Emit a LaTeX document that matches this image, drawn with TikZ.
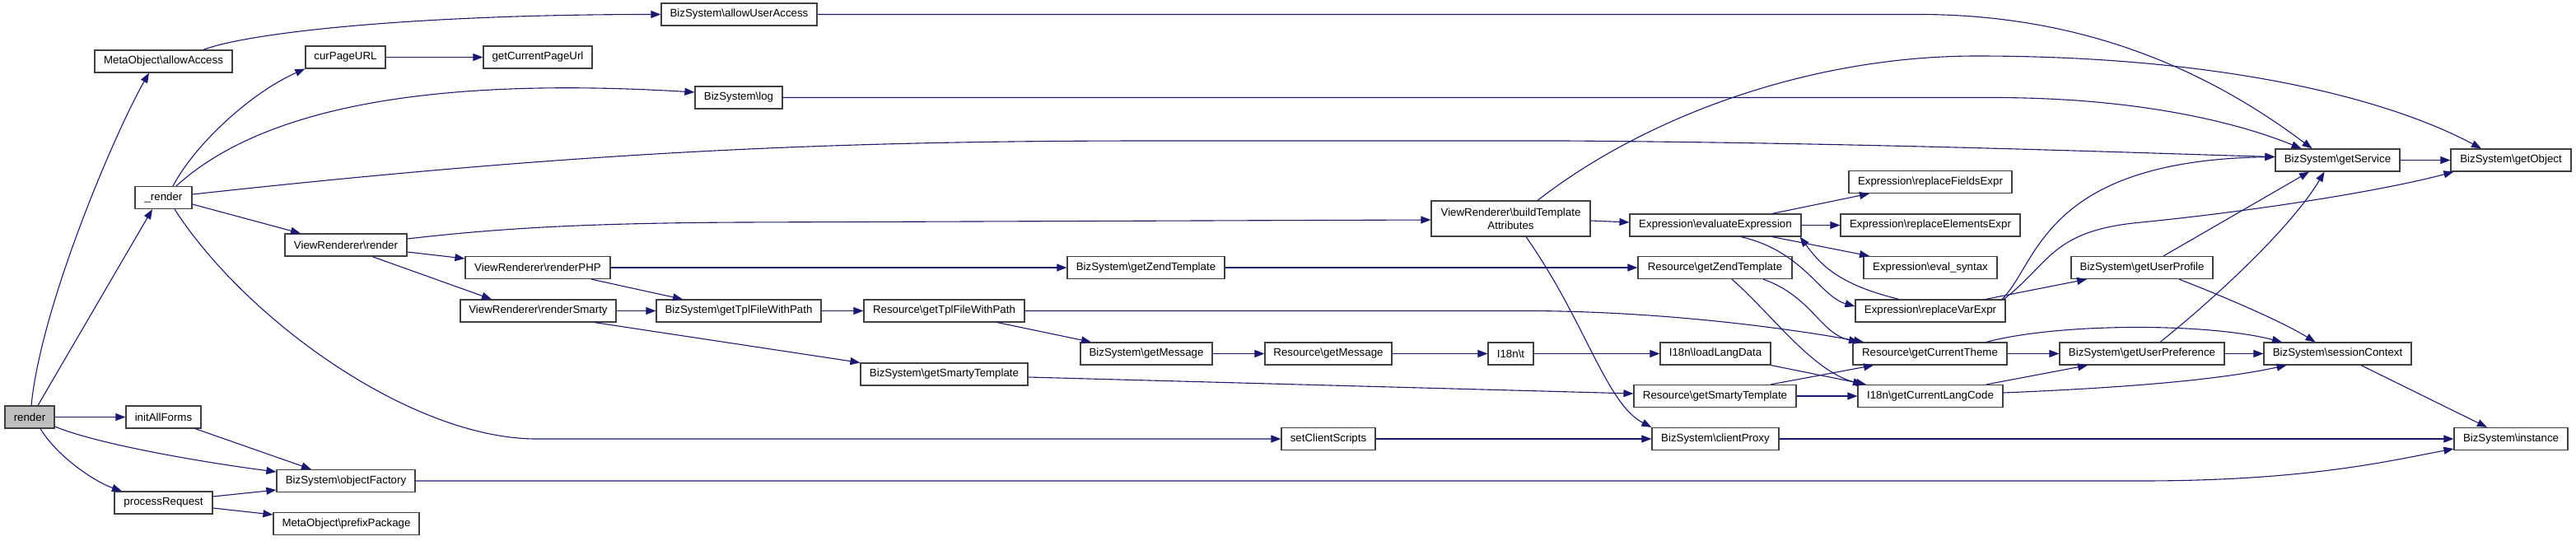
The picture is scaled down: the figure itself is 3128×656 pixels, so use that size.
\documentclass[tikz,border=0pt]{standalone}
\usepackage{fontspec}
\setmainfont{Liberation Sans}
\usepackage{xcolor}
\usetikzlibrary{arrows.meta}

\definecolor{edgeblue}{HTML}{191970}
\definecolor{boxline}{HTML}{404040}
\definecolor{rootgray}{HTML}{BFBFBF}
\newcommand{\nsep}{\textbackslash}

\tikzset{
  fn/.style={draw=boxline, line width=1.2pt, fill=white, minimum height=27, inner sep=2pt,
    font=\fontsize{13.3}{16}\selectfont},
  call/.style={draw=edgeblue, line width=1.1pt, -{Triangle[length=12pt,width=9pt]}},
}

\begin{document}
\begin{tikzpicture}[x=1pt, y=-1pt]
\useasboundingbox (0,0) rectangle (3128,656);

% root function
\node[fn, fill=rootgray, minimum width=60] (render) at (36,506.5) {render};
% called functions
\foreach \n/\x/\y/\w/\lbl in {
  allowAccess/198.5/74.5/167/MetaObject\nsep allowAccess,
  renderPriv/198.5/240/69/\_render,
  initAllForms/198.5/506.5/91/initAllForms,
  processRequest/198.5/610.5/119/processRequest,
  allowUserAccess/897.5/17.5/189/BizSystem\nsep allowUserAccess,
  curPageURL/419.5/69.5/97/curPageURL,
  getCurrentPageUrl/653/69.5/132/getCurrentPageUrl,
  log/897/118.5/106/BizSystem\nsep log,
  vrRender/420/297.5/148/ViewRenderer\nsep render,
  objectFactory/420/584/168/BizSystem\nsep objectFactory,
  prefixPackage/420.5/636/177/MetaObject\nsep prefixPackage,
  renderPHP/653/325/176/ViewRenderer\nsep renderPHP,
  renderSmarty/653.5/377.5/189/ViewRenderer\nsep renderSmarty,
  setClientScripts/1613/533/114/setClientScripts,
  bsTplPath/897/377.5/200/BizSystem\nsep getTplFileWithPath,
  resTplPath/1146.5/377.5/195/Resource\nsep getTplFileWithPath,
  bsSmartyTpl/1146.5/454.5/203/BizSystem\nsep getSmartyTemplate,
  bsZendTpl/1391.5/325/191/BizSystem\nsep getZendTemplate,
  bsGetMessage/1392/429.5/160/BizSystem\nsep getMessage,
  resGetMessage/1613/429.5/154/Resource\nsep getMessage,
  i18nT/1834.5/429.5/55/I18n\nsep t,
  evalExpr/2083/273.5/208/Expression\nsep evaluateExpression,
  resZendTpl/2082.5/325/187/Resource\nsep getZendTemplate,
  loadLangData/2083/429.5/134/I18n\nsep loadLangData,
  resSmartyTpl/2082.5/481/197/Resource\nsep getSmartyTemplate,
  clientProxy/2083/533/154/BizSystem\nsep clientProxy,
  replFields/2344/221/198/Expression\nsep replaceFieldsExpr,
  replElements/2344/273.5/218/Expression\nsep replaceElementsExpr,
  evalSyntax/2344/325/162/Expression\nsep eval\_syntax,
  replVar/2344/377.5/182/Expression\nsep replaceVarExpr,
  curTheme/2343.5/429.5/187/Resource\nsep getCurrentTheme,
  langCode/2344/481/176/I18n\nsep getCurrentLangCode,
  getService/2838.5/194.5/151/BizSystem\nsep getService,
  userProfile/2601/325/172/BizSystem\nsep getUserProfile,
  userPref/2601/429.5/200/BizSystem\nsep getUserPreference,
  sessionCtx/2838.5/429.5/179/BizSystem\nsep sessionContext,
  getObject/3049/194.5/146/BizSystem\nsep getObject,
  instance/3049/533/138/BizSystem\nsep instance}
  \node[fn, minimum width=\w] (\n) at (\x,\y) {\lbl};
\node[fn, minimum width=193, minimum height=43, align=center] (buildTpl) at (1834.5,265.5)
  {ViewRenderer\nsep buildTemplate\\Attributes};

% straight calls on one row
\foreach \a/\b in {render/initAllForms, curPageURL/getCurrentPageUrl, renderPHP/bsZendTpl,
  renderSmarty/bsTplPath, bsTplPath/resTplPath, bsZendTpl/resZendTpl, bsGetMessage/resGetMessage,
  resGetMessage/i18nT, i18nT/loadLangData, setClientScripts/clientProxy, evalExpr/replElements,
  resSmartyTpl/langCode, curTheme/userPref, userPref/sessionCtx, clientProxy/instance,
  getService/getObject}
  \draw[call] (\a.east) -- (\b.west);

% calls from render
\draw[call] ([xshift=2]render.north) .. controls (50,370) and (141,158) .. ([xshift=-17.5]allowAccess.south);
\draw[call] ([xshift=10]render.north) -- ([xshift=-13.5]renderPriv.south);
\draw[call] ([yshift=-11.5]render.east) .. controls (120,540) and (250,562) .. ([yshift=11]objectFactory.west);
\draw[call] ([xshift=13]render.south) .. controls (70,555) and (115,585) .. ([xshift=-50.5]processRequest.north);
\draw[call] ([xshift=38.5]initAllForms.south) -- ([xshift=-42]objectFactory.north);
\draw[call] ([yshift=7.5]processRequest.east) -- ([yshift=-11]objectFactory.west);
\draw[call] ([yshift=-6.5]processRequest.east) -- ([yshift=11]prefixPackage.west);
\draw[call] (objectFactory.east) -- (2600,584) .. controls (2800,584) and (2900,560) .. ([yshift=-12]instance.west);
\draw[call] ([xshift=48.5]allowAccess.north) .. controls (300,40) and (500,17.5) .. (allowUserAccess.west);
\draw[call] (allowUserAccess.east) -- (2330,17.5) .. controls (2550,17.5) and (2700,100) .. ([xshift=-31]getService.north);

% calls from _render
\draw[call] ([xshift=11.5]renderPriv.north) .. controls (240,170) and (310,110) .. (curPageURL.south west);
\draw[call] ([xshift=15.5]renderPriv.north) .. controls (330,120) and (560,95) .. ([yshift=6.5]log.west);
\draw[call] (log.east) -- (2420,118.5) .. controls (2600,118.5) and (2720,150) .. ([xshift=-44]getService.north);
\draw[call] ([yshift=4]renderPriv.east) .. controls (700,185) and (1000,171) .. (1400,171) -- (1900,171)
  .. controls (2300,174) and (2600,186) .. ([yshift=4]getService.west);
\draw[call] ([yshift=-8]renderPriv.east) -- ([xshift=-55]vrRender.north);
\draw[call] ([xshift=13.5]renderPriv.south) .. controls (300,390) and (500,532) .. (650,533) -- (setClientScripts.west);

% view renderer
\draw[call] ([yshift=7.5]vrRender.east) .. controls (600,278) and (700,271) .. (900,270) -- ([yshift=-1.5]buildTpl.west);
\draw[call] ([yshift=-8.5]vrRender.east) -- ([yshift=11]renderPHP.west);
\draw[call] ([xshift=32]vrRender.south) -- ([xshift=-56.5]renderSmarty.north);
\draw[call] ([xshift=65]renderPHP.south) -- ([xshift=-68]bsTplPath.north);
\draw[call] ([xshift=68.5]renderSmarty.south) -- (bsSmartyTpl.north west);
\draw[call] ([xshift=64.5]resTplPath.south) -- ([xshift=-67]bsGetMessage.north);
\draw[call] (resTplPath.east) -- (1850,377.5) .. controls (2000,377.5) and (2150,395) .. ([xshift=-80.5]curTheme.north);
\draw[call] ([yshift=-3.5]bsSmartyTpl.east) -- ([yshift=3]resSmartyTpl.west);

% template attributes and expressions
\draw[call] ([yshift=-2.5]buildTpl.east) -- ([yshift=3.5]evalExpr.west);
\draw[call] ([xshift=18.5]buildTpl.south) .. controls (1925,390) and (1950,490) .. (clientProxy.north west);
\draw[call] ([xshift=32.5]buildTpl.north) .. controls (2000,140) and (2200,68) .. (2400,68)
  .. controls (2700,68) and (2900,120) .. ([xshift=-36]getObject.north);
\draw[call] ([xshift=69]evalExpr.north) -- ([xshift=-74]replFields.south);
\draw[call] ([xshift=69]evalExpr.south) -- ([xshift=-74]evalSyntax.north);
\draw[call] ([xshift=31]evalExpr.south) .. controls (2190,305) and (2210,360) .. ([yshift=5.5]replVar.west);
\draw[call] ([xshift=-38]replVar.north) .. controls (2230,345) and (2210,320) .. ([xshift=-2]evalExpr.south east);
\draw[call] ([xshift=67]replVar.north) -- ([xshift=-67]userProfile.south);
\draw[call] ([xshift=87]replVar.north) .. controls (2475,320) and (2480,195) .. ([yshift=4]getService.west);
\draw[call] ([xshift=89]replVar.north) .. controls (2490,320) and (2490,280) .. (2600,270)
  .. controls (2750,255) and (2900,230) .. ([xshift=4]getObject.south west);

% resources and language
\draw[call] ([xshift=58.5]resZendTpl.south) .. controls (2200,360) and (2210,405) .. ([xshift=-86.5]curTheme.north);
\draw[call] ([xshift=20.5]resZendTpl.south) .. controls (2150,380) and (2200,450) .. ([xshift=-82]langCode.north);
\draw[call] (loadLangData.south east) -- ([xshift=-78]langCode.north);
\draw[call] ([xshift=67.5]resSmartyTpl.north) -- ([xshift=-68.5]curTheme.south);
\draw[call] ([xshift=68.5]curTheme.north) .. controls (2500,392) and (2680,392) .. ([xshift=-67.5]sessionCtx.north);
\draw[call] ([xshift=68]langCode.north) -- ([xshift=-66]userPref.south);
\draw[call] ([yshift=4]langCode.east) .. controls (2600,470) and (2700,460) .. ([xshift=-62]sessionCtx.south);

% user and session
\draw[call] ([xshift=45]userProfile.south) .. controls (2700,360) and (2770,390) .. ([xshift=-27]sessionCtx.north);
\draw[call] ([xshift=28.5]sessionCtx.south) -- ([xshift=-29]instance.north);
\draw[call] ([xshift=26]userProfile.north) -- ([xshift=-34.5]getService.south);
\draw[call] ([xshift=22]userPref.north) .. controls (2680,370) and (2780,280) .. ([xshift=-16]getService.south);
\end{tikzpicture}
\end{document}
